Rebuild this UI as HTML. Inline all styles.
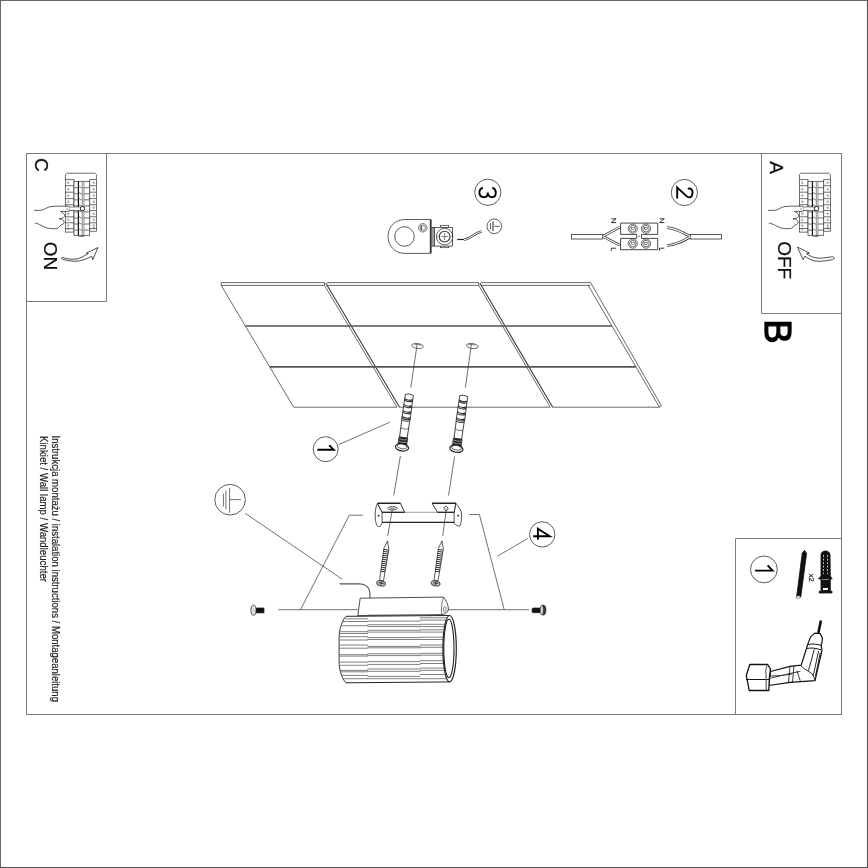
<!DOCTYPE html>
<html><head><meta charset="utf-8">
<style>
html,body{margin:0;padding:0;background:#fff;}
body{width:868px;height:868px;overflow:hidden;}
svg{display:block;will-change:transform;font-family:"Liberation Sans",sans-serif;}
</style></head>
<body>
<svg width="868" height="868" viewBox="0 0 868 868">
<defs>
<g id="panel" fill="none" stroke="#333" stroke-width="0.7">
<path d="M65.4,179.7 V174.6 L66.9,173.2 H95 L96.39999999999999,174.6 V179.7" fill="#fff"/>
<rect x="65.4" y="179.7" width="8.6" height="52.4" fill="#fff"/>
<rect x="89.7" y="179.7" width="6.9" height="51.5" fill="#fff"/>
<rect x="74.0" y="181.3" width="15.7" height="54" fill="#fff"/>
<path d="M65.4,185.7 H74.0 M89.7,185.7 H96.6 M65.4,192.2 H74.0 M89.7,192.2 H96.6 M65.4,198.6 H74.0 M89.7,198.6 H96.6 M65.4,204.7 H74.0 M89.7,204.7 H96.6 M65.4,210.5 H74.0 M89.7,210.5 H96.6 M65.4,216.8 H74.0 M89.7,216.8 H96.6 M65.4,222.8 H74.0 M89.7,222.8 H96.6 M65.4,228.5 H74.0 M89.7,228.5 H96.6"/>
<path d="M74.0,187.7 H78.4 M83.9,187.7 H89.7 M74.0,193.8 H78.4 M83.9,193.8 H89.7 M74.0,199.8 H78.4 M83.9,199.8 H89.7 M74.0,205.9 H78.4 M83.9,205.9 H89.7 M74.0,211.9 H78.4 M83.9,211.9 H89.7 M74.0,218 H78.4 M83.9,218 H89.7 M74.0,224 H78.4 M83.9,224 H89.7 M74.0,230.1 H78.4 M83.9,230.1 H89.7"/>
<path d="M78.4,186.2 L82.3,188.2 M78.4,192.3 L82.3,194.3 M78.4,198.3 L82.3,200.3 M78.4,204.4 L82.3,206.4 M78.4,210.4 L82.3,212.4 M78.4,216.5 L82.3,218.5 M78.4,222.5 L82.3,224.5 M78.4,228.6 L82.3,230.6" stroke-width="0.6"/>
<path d="M78.4,181.3 V235.3" stroke-width="1.2" stroke="#111"/>
<path d="M82.3,182 V236.5 M83.9,182 V236.5 M78.4,236.5 H83.9" stroke-width="0.55"/>
<g stroke-width="0.5" stroke="#555"><circle cx="68.3" cy="182.7" r="0.9"/><circle cx="68.3" cy="189.2" r="0.9"/><circle cx="68.3" cy="195.6" r="0.9"/><circle cx="68.3" cy="201.7" r="0.9"/><circle cx="68.3" cy="213.8" r="0.9"/><circle cx="68.3" cy="219.8" r="0.9"/><circle cx="68.3" cy="225.5" r="0.9"/><circle cx="68.3" cy="229.1" r="0.9"/><circle cx="93.7" cy="182.7" r="0.9"/><circle cx="93.7" cy="189.2" r="0.9"/><circle cx="93.7" cy="195.6" r="0.9"/><circle cx="93.7" cy="201.7" r="0.9"/><circle cx="93.7" cy="207.5" r="0.9"/><circle cx="93.7" cy="213.8" r="0.9"/><circle cx="93.7" cy="219.8" r="0.9"/><circle cx="93.7" cy="225.5" r="0.9"/><circle cx="93.7" cy="228.2" r="0.9"/></g>
<path d="M34.1,210.4 C38,210.4 41,210.6 43.5,209.6 C46,208.5 48,207 51,206.5 C54,206 58,206.2 61,206.2 H68.7 L69.4,206.8 V211 L68.7,211.4 H60.4 C62,212 63.5,213 64.5,214.5 C65,216 64,217.5 62,218.3 L59,218.7 C62,219 63.5,220 64,221.5 C64.5,223 63.5,224.5 61,225 C60,226 59,227.5 57.6,228.3 C54,229 50,228.8 47,228 C43,226.5 40,224.5 37,223.5 C36,223.3 35,223.2 34.8,223.2" fill="#fff" stroke-width="0.8"/>
<path d="M67.2,208 V210" stroke-width="0.5"/>
<path d="M69.4,207 H80.5 V210.4 H69.4" fill="#fff" stroke-width="0.6"/>
<circle cx="82.5" cy="208.6" r="2.2" fill="#fff" stroke="#111" stroke-width="0.9"/>
</g>
</defs>

<!-- outer border -->
<path d="M0,0.5 H868 M0.5,0 V868" stroke="#666" stroke-width="1" fill="none"/><path d="M0,867.5 H868 M867.5,0 V868" stroke="#505050" stroke-width="1.1" fill="none"/>
<!-- inner frame -->
<g fill="none" stroke="#7a7a7a" stroke-width="1">
<rect x="26.5" y="153.5" width="815" height="561"/>
<polyline points="106.5,153.5 106.5,301.5 26.5,301.5"/>
<polyline points="761.5,153.5 761.5,313.5 841.5,313.5"/>
<polyline points="841.5,538.5 735.5,538.5 735.5,714.5"/>
</g>

<!-- Box C -->
<use href="#panel"/>
<use href="#panel" x="734" y="0"/>
<g fill="#111" stroke="#111" stroke-width="0.3">
<text transform="translate(41.5,164.9) rotate(90)" font-size="19" text-anchor="middle" dominant-baseline="central">C</text>
<text transform="translate(776.5,167.5) rotate(90)" font-size="19" text-anchor="middle" dominant-baseline="central">A</text>
</g>
<g fill="#111" stroke="#111" stroke-width="0.2">
<text transform="translate(50.5,256) rotate(90)" font-size="19" text-anchor="middle" dominant-baseline="central">ON</text>
<text transform="translate(784.4,260.2) rotate(90)" font-size="19" text-anchor="middle" dominant-baseline="central">OFF</text>
</g>
<text transform="translate(777,331.5) rotate(90)" font-size="36" text-anchor="middle" dominant-baseline="central" fill="#000" stroke="#000" stroke-width="1.3">B</text>
<!-- arrows -->
<path d="M62.2,257.3 C67,259 72,259.8 77,258.9 C80.5,258.2 84,256 88.3,253.6 L86.4,253.1 L98,247.5 L92.8,259.6 L91.8,256.3 C86,259 81,261.4 75,261.3 C70,261.1 66,260.3 62.2,259.2 C61.2,258.8 61.2,257.6 62.2,257.3 Z" fill="#fff" stroke="#222" stroke-width="0.8" stroke-linejoin="round"/>
<path d="M797.4,247.1 L809.5,253.1 L806.5,253.8 C811,256.5 814.5,258.2 819,258.2 C824,258.2 829,257 832.5,256.8 C834.8,256.8 834.8,259.2 832.5,259.6 C828,260.5 823,261.3 818.5,261.3 C813,261.3 809,259 804.9,256.2 L803.1,259.6 Z" fill="#fff" stroke="#222" stroke-width="0.8" stroke-linejoin="round"/>

<!-- Icon 3 -->
<g fill="none" stroke="#333" stroke-width="0.8">
<circle cx="487.8" cy="192.3" r="13.1"/>
<circle cx="684.4" cy="192.5" r="13.1"/>
</g>


<!-- ring terminal icon 3 -->
<g fill="none" stroke="#333" stroke-width="0.8">
<path d="M431,219.5 H405 C395,219.5 388,227 388,236.5 C388,246 395,253.4 405,253.4 H431 Z" fill="#fff"/>
<path d="M430.6,220 V253" stroke-width="1.6"/>
<circle cx="404.5" cy="236.5" r="9.8"/>
<circle cx="422.8" cy="227.8" r="4.2" stroke-width="0.7"/><circle cx="422.8" cy="227.8" r="2.6" stroke-width="0.6"/>
<path d="M421.6,225.5 V230.1" stroke-width="0.9"/>
<rect x="440.4" y="225.4" width="8.3" height="2.3" fill="#fff" stroke-width="0.7"/>
<rect x="440.4" y="245.8" width="8.3" height="1.9" fill="#fff" stroke-width="0.7"/>
<rect x="432.1" y="227.4" width="20.4" height="18.7" fill="#fff"/>
<path d="M434.2,227.6 V246" stroke-width="1.3"/>
<circle cx="444.6" cy="236.6" r="8.2" stroke-width="0.8"/>
<circle cx="444.6" cy="236.6" r="5.4" stroke-width="1.1"/>
<path d="M441,236.6 H448.2 M444.6,233 V240.2 M436.4,236.6 H437.5 M451.7,236.6 H452.8" stroke-width="0.6"/>
<path d="M457.2,239.5 H464" stroke-width="1.2" stroke="#222"/>
<path d="M464,239.5 C467,239.5 470,237.5 473,235.5 C476,233.5 479,232 481.6,231.5" stroke-width="2.4" stroke="#444"/>
<path d="M464,239.5 C467,239.5 470,237.5 473,235.5 C476,233.5 479,232 481.6,231.5" stroke-width="1" stroke="#fff"/>
<circle cx="494.3" cy="226.3" r="7.3" stroke-width="0.8"/>
<path d="M490.5,223 V229.3" stroke-width="0.8"/>
<path d="M493,221.4 V230.9" stroke-width="1.1"/>
<path d="M494.3,226.3 H499.7" stroke-width="0.8"/>
</g>
<!-- connector icon 2 -->
<g fill="none" stroke="#333" stroke-width="0.8">
<rect x="571.5" y="234.5" width="31" height="4.5" fill="#fff"/>
<rect x="690.5" y="234.5" width="31" height="4.5" fill="#fff"/>
<path d="M602.8,236.4 L619.8,227.1 M602.8,236.4 L619.8,245.2" stroke-width="2.6" stroke="#333"/>
<path d="M602.8,236.4 L619.8,227.1 M602.8,236.4 L619.8,245.2" stroke-width="1.1" stroke="#fff"/>
<path d="M690.5,236.6 C683,233 676,228 667,227.6 M690.5,236.8 C683,241 676,245 667,245.5" stroke-width="2.6" stroke="#333"/>
<path d="M690.5,236.6 C683,233 676,228 667,227.6 M690.5,236.8 C683,241 676,245 667,245.5" stroke-width="1.1" stroke="#fff"/>
<path d="M620.6,223.1 H657.7 V234.4 H641.5 V238.4 H657.7 V249.7 H620.6 V238.4 H636.7 V234.4 H620.6 Z" fill="#fff" stroke-width="0.9"/>
<g stroke-width="0.7">
<circle cx="632.8" cy="228.7" r="4.6"/><circle cx="646" cy="228.7" r="4.6"/>
<circle cx="632.8" cy="243.6" r="4.6"/><circle cx="646" cy="243.6" r="4.6"/>
<circle cx="632.8" cy="228.7" r="3.3"/><circle cx="646" cy="228.7" r="3.3"/>
<circle cx="632.8" cy="243.6" r="3.3"/><circle cx="646" cy="243.6" r="3.3"/>
</g>
<g fill="#333" stroke="none">
<g fill="none" stroke="#333" stroke-width="0.5"><rect x="631.3" y="227.7" width="3" height="2"/><rect x="644.5" y="227.7" width="3" height="2"/>
<rect x="631.3" y="242.6" width="3" height="2"/><rect x="644.5" y="242.6" width="3" height="2"/></g>
<circle cx="639.1" cy="236.4" r="0.6"/>
</g>
</g>
<g fill="none" stroke="#222" stroke-width="0.9">
<path d="M611.3,218.8 H616.1 L611.3,222.6 H616.1"/>
<path d="M659.5,218.8 H664.3 L659.5,222.6 H664.3"/>
<path d="M611.3,250.8 V248.2 H616.1"/>
<path d="M659.5,250.8 V248.2 H664.3"/>
</g>

<!-- ceiling grid -->
<g fill="none" stroke="#444" stroke-linecap="butt">
<path d="M221.2,282.6 H324.5 M221.2,285.4 H324.5 M327.1,282.6 H478.7 M327.1,285.4 H478.7 M481.2,282.6 H590.6 M481.2,285.4 H590.6 M221.2,282.6 V285.4 M324.5,282.6 V285.4 M478.7,282.6 V285.4 M293.7,407.2 H397.0 M399.6,407.2 H550.2 M552.7,407.2 H659.5 M221.2,285.4 L293.7,407.2 M324.5,285.4 L397.0,407.2 M478.7,285.4 L550.2,407.2 M588.2,285.4 L659.5,407.2 M590.6,282.6 L661.4,405.8 L659.5,407.2" stroke-width="0.8"/>
<path d="M325.7,283.1 L399.6,407.2 M479.8,283.1 L552.7,407.2" stroke-width="1.05" stroke="#333"/>
<path d="M245.4,326.0 H612.0 M269.7,366.9 H635.9" stroke-width="1.7" stroke="#555"/>
</g>

<defs>
<g id="dowel" fill="none" stroke="#222" stroke-width="0.8">
  <path d="M-4,-27 L-3.8,-10 M4,-27 L3.8,-10"/>
  <path d="M-4,-19 Q0,-17.8 4,-19" stroke-width="0.6"/>
  <path d="M-4.3,-10 H4.3 V-3 H-4.3 Z" fill="#222"/>
  <path d="M-4,-8.2 Q0,-6.7 4,-8.2 M-4,-5.6 Q0,-4.1 4,-5.6" stroke="#fff" stroke-width="0.5"/>
  <ellipse cx="0" cy="0" rx="6.6" ry="3.7" fill="#fff" stroke-width="1.2"/>
  <ellipse cx="0" cy="-0.9" rx="4.9" ry="2.3" stroke-width="0.7"/>
  <path d="M-4,-53 Q0,-54.8 4,-53 L4.2,-27 Q0,-25.5 -4.2,-27 Z" fill="#fff"/>
  <path d="M-4,-48.5 Q0,-46.5 4,-48.5 M-4,-47 Q0,-45 4,-47 M-4,-42.5 Q0,-40.5 4,-42.5 M-4,-41 Q0,-39 4,-41 M-4.1,-36.5 Q0,-34.5 4.1,-36.5 M-4.1,-35 Q0,-33 4.1,-35 M-4.1,-30.5 Q0,-28.5 4.1,-30.5 M-4.2,-29 Q0,-27 4.2,-29" stroke-width="1"/>
</g>
</defs>
<use href="#dowel" transform="translate(402,447.3) rotate(8)"/>
<use href="#dowel" transform="translate(456.4,448.6) rotate(8)"/>
<!-- hole ellipses & leaders -->
<g fill="none" stroke="#333" stroke-width="0.7">
<ellipse cx="417.5" cy="346" rx="5.8" ry="2.5" transform="rotate(8 417.5 346)"/>
<ellipse cx="472.2" cy="346" rx="5.8" ry="2.5" transform="rotate(8 472.2 346)"/>
<path d="M417.2,344 L410.8,387.6 M471.4,344 L465.4,387.6"/>
<path d="M414,345.2 C415.5,344 419,344 421,345.5 M468.2,345.2 C469.7,344 473.2,344 475.2,345.5" stroke-width="0.6"/>

<circle cx="325.7" cy="449.2" r="12.5" stroke-width="0.8"/>
<path d="M339,444.5 L389.9,422.2"/>
<circle cx="542.2" cy="534.4" r="12.65" stroke-width="0.8"/>
<path d="M527.6,538.6 L497.2,556.3"/>
<circle cx="230.1" cy="499.7" r="15.3" stroke-width="0.8"/>
<path d="M223.4,493.8 V506.5 M225.9,490.4 V509.3 M229.6,487.8 V512.7 M229.6,499.6 H240.9"/>
<path d="M245.2,513.3 L342,579.1"/>
<path d="M300.5,609.7 L349.3,515.2 H362.8"/>
<path d="M469.3,514.5 H479.4 L504.2,609.5"/>
<path d="M278.3,609.7 H357.6 M447.5,609.7 H529"/>
</g>


<!-- bracket -->
<g fill="#fff" stroke="#222" stroke-width="0.8" stroke-linejoin="round">
<path d="M382.1,512.3 H454.1 V522.4 H382.1 Z" stroke="none"/>
<path d="M404.6,512.3 H437.4" stroke="#777" stroke-width="0.7" fill="none"/>
<path d="M382.1,522.4 H454.1" stroke-width="1.3" fill="none"/>
<path d="M377.5,503.3 C375.5,507 375,512 375.2,517 C375.5,522 376.5,526.5 378.6,526.7 C380.5,526.5 382.1,524 382.1,522 V512.3 Z"/>
<path d="M377.5,503.3 H400.5 L404.6,512.3 H382.1 Z" stroke-width="0.9"/>
<path d="M377.5,503.3 H400.5" stroke-width="1.4"/>
<path d="M382.1,512.3 H404.6" stroke-width="1.1"/>
<path d="M455.8,503.3 C458.5,506.5 461.6,510 461.6,515 C461.6,520 460.8,526 459.2,526.2 C456.5,526 454.1,524.5 454.1,522 V512.3 Z"/>
<path d="M432.2,503.3 H455.8 L454.1,512.3 H437.4 Z" stroke-width="0.9"/>
<path d="M432.2,503.3 H455.8" stroke-width="1.4"/>
<path d="M437.4,512.3 H454.1" stroke-width="1.1"/>
<ellipse cx="392.5" cy="508.3" rx="4.8" ry="1.7"/>
<path d="M390,508.3 H395" stroke-width="0.6"/>
<rect x="444.5" y="506.5" width="3.2" height="3.8" rx="1" transform="rotate(-30 446 508.4)"/>
<circle cx="378.6" cy="515.7" r="0.6" fill="#222"/>
<circle cx="458.1" cy="515.7" r="0.6" fill="#222"/>
</g>
<path d="M400.4,456 L393.7,495.5 M454.6,456.5 L448.5,495.5 M392.3,509.5 L387.7,536 M446.3,509.5 L442.7,536" fill="none" stroke="#333" stroke-width="0.7"/>
<defs>
<g id="wscrew" fill="#fff" stroke="#222" stroke-width="0.7">
<path d="M-2,-3 L-2.5,-35 L0,-43 L2.5,-35 L2,-3 Z"/>
<path d="M-2.5,-34 H2.5 M-2.5,-32 H2.5 M-2.5,-30 H2.5 M-2.5,-28 H2.5 M-2.5,-26 H2.5 M-2.5,-24 H2.5 M-2.4,-22 H2.4 M-2.4,-20 H2.4 M-2.3,-18 H2.3 M-2.3,-16 H2.3 M-2.2,-14 H2.2 M-2.2,-12 H2.2" stroke-width="0.9"/>
<ellipse cx="0" cy="0" rx="4.6" ry="2.6" fill="#bbb" stroke-width="0.8"/>
<path d="M-2.5,-0.3 H2.5 M0,-1.8 V1.5" stroke="#222" stroke-width="0.8"/>
</g>
</defs>
<use href="#wscrew" transform="translate(381.1,583.4) rotate(8.6)"/>
<use href="#wscrew" transform="translate(435.6,583.4) rotate(8.6)"/>
<!-- side screws -->
<g stroke="#222" stroke-width="0.7">
<rect x="255.4" y="608" width="8.6" height="4.9" fill="#111"/>
<ellipse cx="253.5" cy="610.2" rx="2.6" ry="5.1" fill="#ddd"/>
<rect x="532.1" y="608" width="8.2" height="4.7" rx="1" fill="#111"/>
<ellipse cx="543" cy="610.1" rx="2.9" ry="5" fill="#333"/>
<ellipse cx="541.8" cy="610.1" rx="1.5" ry="4.5" fill="#ddd" stroke-width="0.4"/>
</g>
<!-- lamp -->
<g fill="none" stroke="#222" stroke-width="0.8">
<path d="M339.7,583.9 H359.8 C365,584 369.9,587 369.9,594 V598.2" stroke="#555" stroke-width="1.1"/>
<path d="M360.2,598.2 L443.5,597.1 C446,600 448.4,605 448.4,609.2 C448,612 446,614 441.7,614.6 L357.8,615.7 Z" fill="#fff"/>
<path d="M443.5,597.1 C441.5,602 441,609 441.7,614.6" stroke-width="0.6"/>
<ellipse cx="444.8" cy="609.5" rx="1.3" ry="2.8" stroke-width="0.6"/>
<path d="M346,616.3 L449.6,615.5 M346,682.8 L449.6,681.9" stroke-width="1"/>
<path d="M346,616.3 C342,620 339.1,630 339.1,637.6 V661.6 C339.1,670 342,679 346,682.8" stroke-width="0.9"/>
<path d="M344.5,618.8 H368 M343.0,621.5 H368 M341.3,625.7 H368 M339.6,631.7 H368 M339.4,633.5 H368 M339.1,636.7 H368 M339.1,640 H368 M339.1,645 H368 M339.1,648.2 H368 M339.1,654.7 H368 M339.1,656.1 H368 M339.1,662.1 H368 M339.3,665.3 H368 M340.3,670.4 H368 M340.7,671.8 H368 M342.0,675.4 H368 M343.6,678.7 H368 M367.5,615.1 H420.5 M367.5,621.1 H420.5 M367.5,624.7 H420.5 M367.5,626.6 H420.5 M367.5,630.3 H420.5 M367.5,632.1 H420.5 M367.5,637.6 H420.5 M367.5,639.5 H420.5 M367.5,646.4 H420.5 M367.5,647.8 H420.5 M367.5,653.8 H420.5 M367.5,655.6 H420.5 M367.5,661.6 H420.5 M367.5,664.4 H420.5 M367.5,669 H420.5 M367.5,671.3 H420.5 M367.5,676.4 H420.5 M367.5,678.7 H420.5 M420,617.8 H447.6 M420,620.1 H446.7 M420,624.3 H445.6 M420,626.6 H445.1 M420,629.8 H444.6 M420,632.1 H444.3 M420,637.2 H443.8 M420,639.5 H443.7 M420,645 H443.4 M420,647.3 H443.4 M420,653.3 H443.5 M420,655.2 H443.5 M420,660.7 H443.9 M420,663.5 H444.1 M420,668.1 H444.7 M420,670.4 H445.0 M420,674.5 H445.9 M420,678.7 H447.2" stroke="#555" stroke-width="0.75"/>
<ellipse cx="449.6" cy="648.7" rx="6.7" ry="33.2" fill="#fff" stroke-width="1.2"/>
<ellipse cx="448.9" cy="648.5" rx="5.1" ry="29.3" stroke-width="1.1"/>
</g>

<!-- side text -->
<g fill="#222" stroke="#222" stroke-width="0.2" font-size="10">
<text transform="translate(55.5,435.5) rotate(90)" dominant-baseline="central" id="t1" textLength="266.5" lengthAdjust="spacingAndGlyphs">Instrukcja montażu / instalation instructions / Montageanleitung</text>
<text transform="translate(43,436) rotate(90)" dominant-baseline="central" id="t2" textLength="146" lengthAdjust="spacingAndGlyphs">Kinkiet / Wall lamp / Wandleuchter</text>
</g>

<!-- drill box -->
<g fill="none" stroke="#333" stroke-width="0.8">
<circle cx="763.9" cy="569.4" r="13.4"/>
</g>

<!-- long screw -->
<path d="M804.5,550.3 L806.6,553.5 L800.8,597 L796.6,596.8 L802.2,553.3 Z" fill="#111" stroke="#111" stroke-width="0.8" stroke-linejoin="round"/>
<ellipse cx="798.3" cy="597" rx="2.2" ry="1.3" fill="#eee" stroke="#333" stroke-width="0.5"/>
<text transform="translate(811.8,577.7) rotate(90)" font-size="7.5" text-anchor="middle" dominant-baseline="central" fill="#333" stroke="#333" stroke-width="0.25">x2</text>
<!-- wall plug -->
<g stroke="#111" stroke-width="0.8">
<path d="M821,555 C821,552 823.5,551 825.5,551 C827.5,551 830,552 830,555 L830.3,576 L832.2,579 L830.3,579 V591.2 H832 V593 H819.2 V591.2 H821 V579 H818.5 L821,576 Z" fill="#111"/>
<path d="M823.5,555 V574 M827.5,555 V574" stroke="#fff" stroke-width="0.7" stroke-dasharray="2,1.5"/>
<rect x="823" y="588" width="5" height="2" fill="#fff" stroke="none"/>
<path d="M822,579.5 H829" stroke="#fff" stroke-width="0.5"/>
</g>
<!-- drill -->
<g fill="#fff" stroke="#111" stroke-width="1.2" stroke-linejoin="round" stroke-linecap="round">
<path d="M770.5,671.5 L790,666.3 L801.2,665.1 L806.4,648.7 L807.7,644.4 L810.7,636.6 L815,633.1 L820.2,633.6 L822.4,638.3 L822,642.6 L821.1,645.2 L822,650.4 L815,680.7 L790,682.4 L768.8,685.5 Z"/>
<path d="M818.5,632.3 L820.7,621.5" stroke-width="2.6"/>
<path d="M807.7,644.6 C812,643.5 817,644 821.1,645.4 M806.8,648.5 C811,647.5 816,648 820.7,649.8" stroke-width="1"/>
<path d="M814.2,649.6 L808.6,670.3 M818.5,651.3 L813.3,675.5 M820.2,653 L815.5,676" stroke-width="0.9"/>
<path d="M801.2,666 C803,668 806,670 809,671.5 C812,673 814,676 815,680.7" stroke-width="0.9"/>
<path d="M771,678 L792,673 L800,671.5 M790,666.3 L788.5,682.3 M794,666 L792.5,682 M797,671 L800.5,681.5" stroke-width="0.8"/>
<path d="M770.5,676 C778,676 786,675 792,674" stroke-width="0.8"/>
<path d="M749.8,664.5 H767.6 L770.5,669.1 L769.5,676 L768.8,690.5 H749.2 L746.3,675.5 Z" stroke-width="1.3"/>
<path d="M746.5,679.5 H769.5" stroke-width="1.2"/>
<path d="M767.6,664.5 C766,667 765.5,670 766,673 L766.3,690" stroke-width="0.8"/>
</g>

<!-- digits -->
<g fill="none" stroke="#000" stroke-width="1.9" stroke-linecap="butt" stroke-linejoin="miter">
<path d="M482.9,187.6 C480.5,188.5 479.4,190.5 479.4,192.5 C479.4,195.5 481.5,197.2 484.2,197.2 C486.5,197.2 487.8,195 487.8,192.5 C487.8,195 489.5,197.2 492,197.2 C494.5,197.2 495.8,195 495.8,192.5 C495.8,190.5 494.5,188.5 492.3,187.6"/>
<path d="M677.2,198.5 V187.5 L686.2,195.9 C687.7,197.3 689.8,197.6 691,196.7 C692.8,195.4 693.1,191.2 691.6,189.5 C690.6,188.3 689,188.2 688,189.2"/>
<path d="M533.2,536.3 H549.7 L537.9,528.8 V539.7"/>
<path d="M317.4,449.7 H333.7 L329.2,445.3"/>
<path d="M755.1,570.6 H772.6 L767.6,565.3"/>
</g>
</svg>
</body></html>
